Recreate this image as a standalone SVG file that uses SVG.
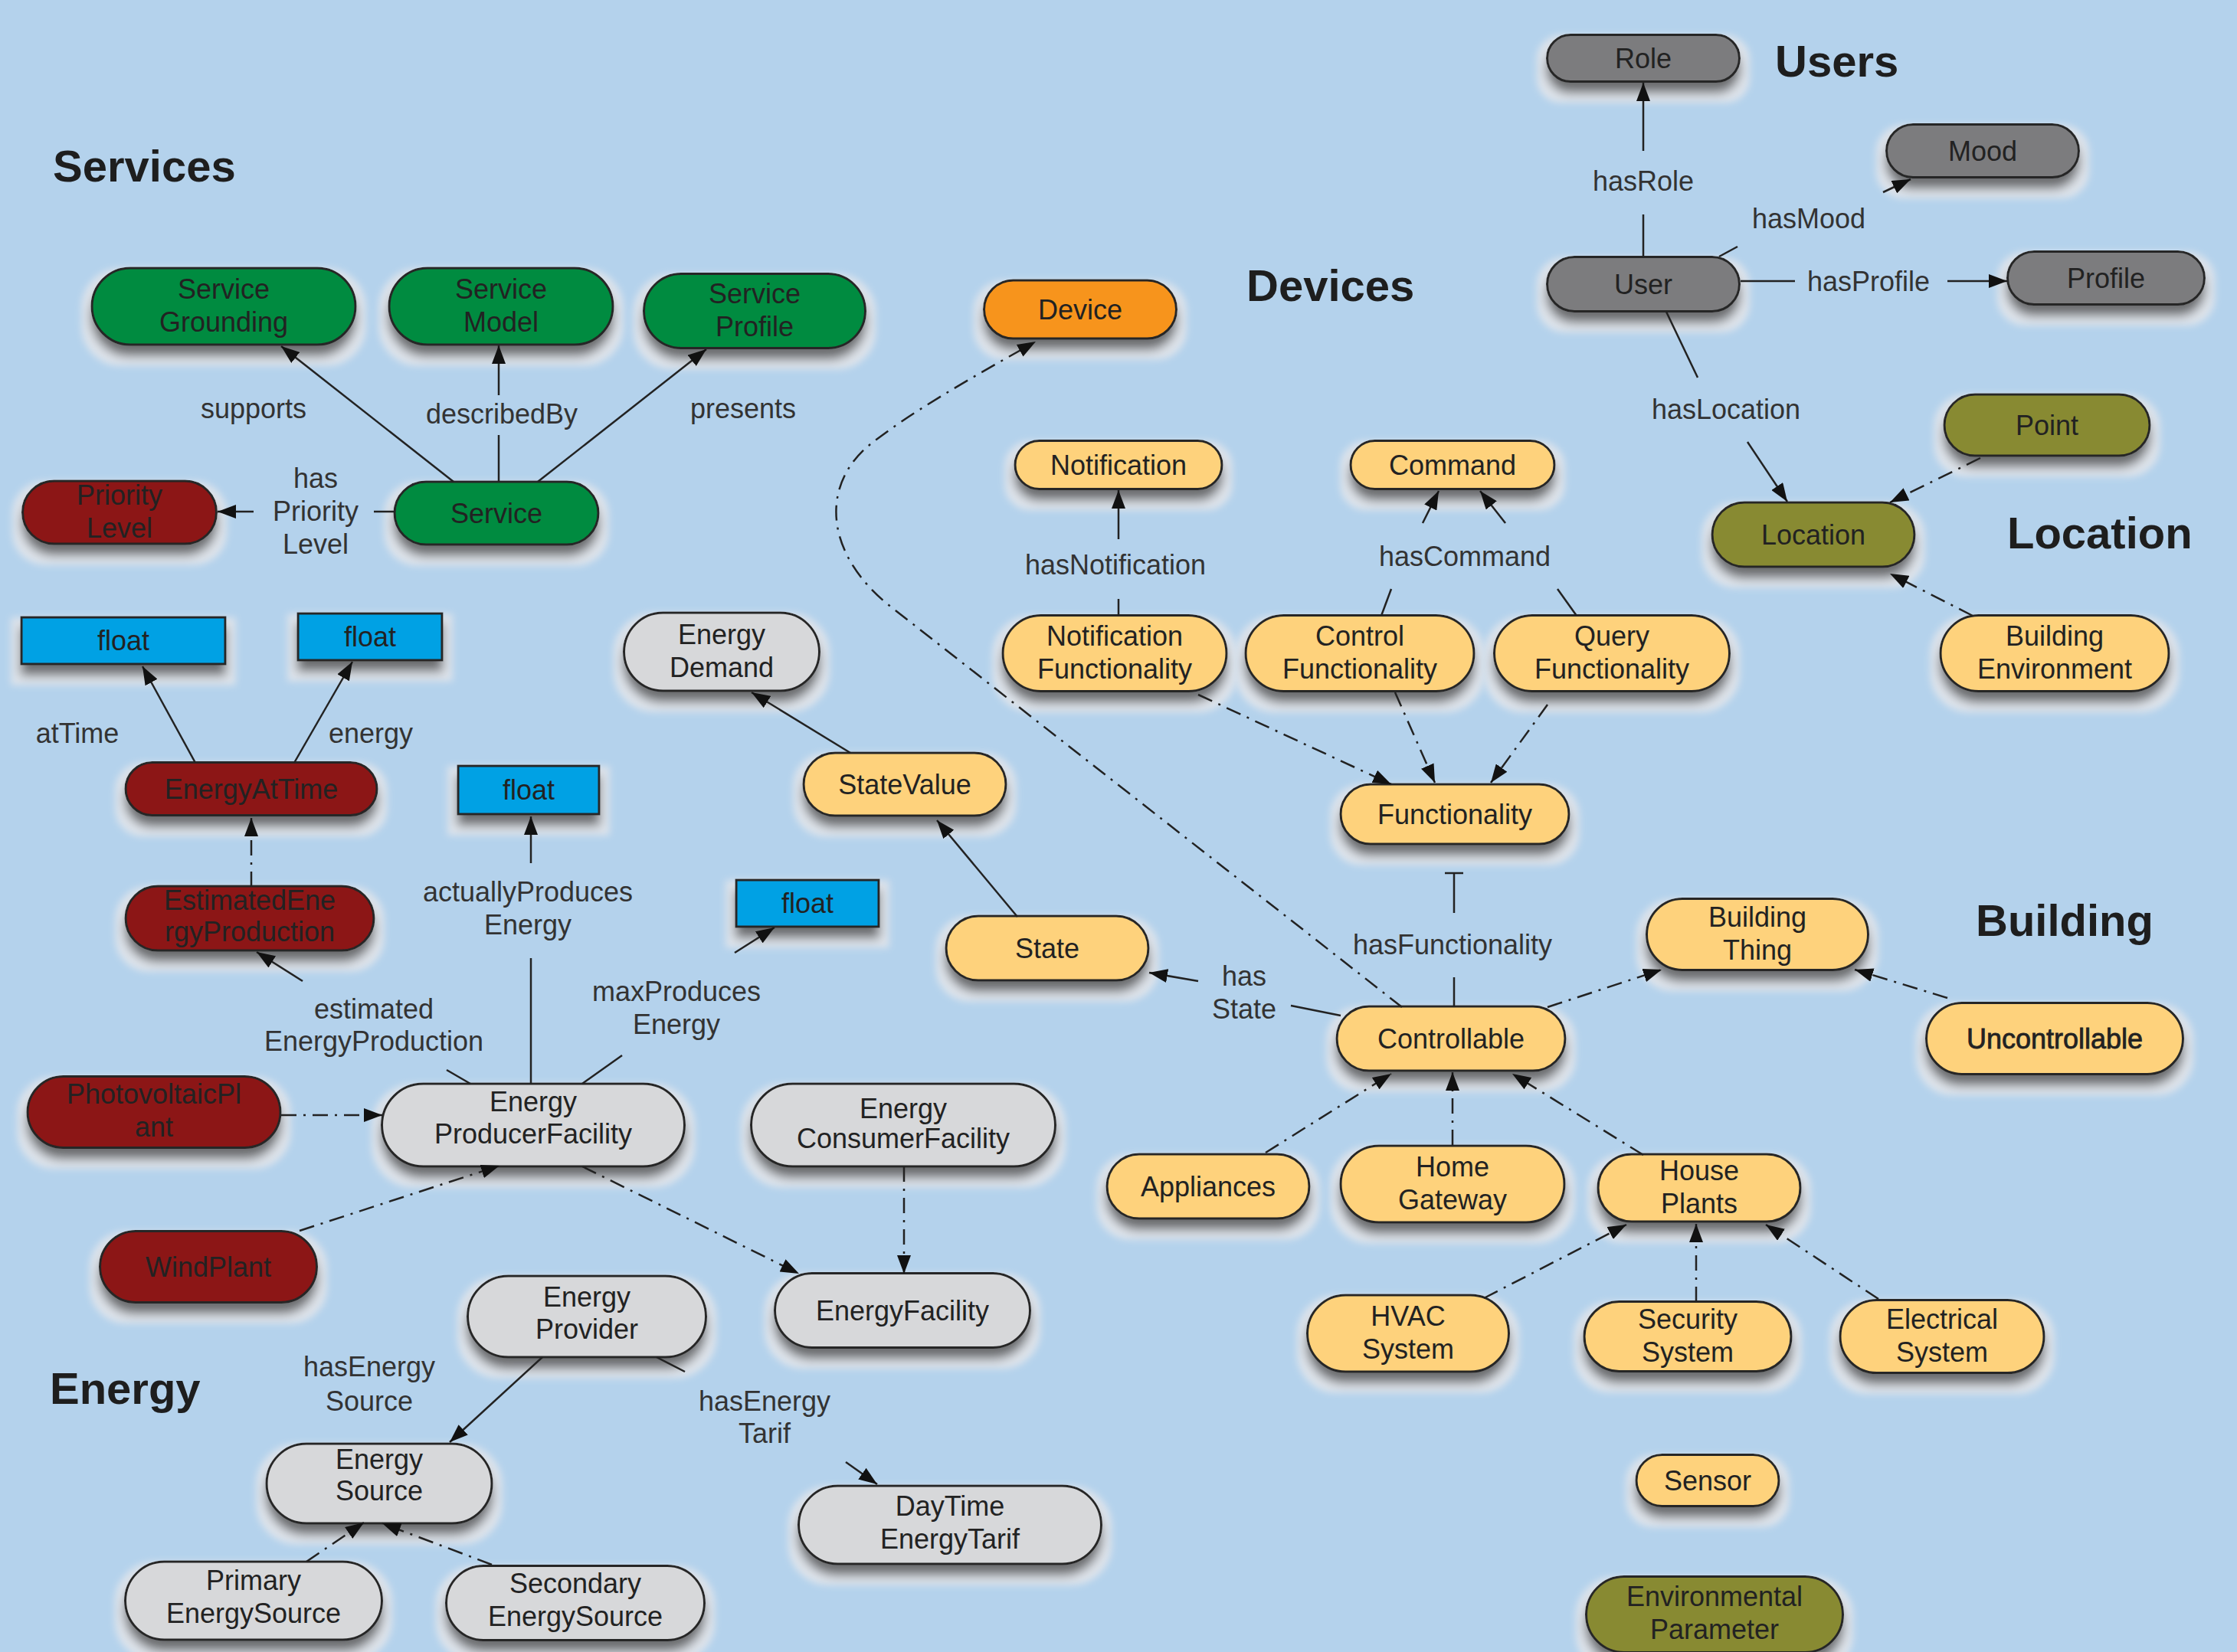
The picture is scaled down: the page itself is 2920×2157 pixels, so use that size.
<svg xmlns="http://www.w3.org/2000/svg" width="2920" height="2157" viewBox="0 0 2920 2157">
  <defs>
    <style>
      .n { stroke: #262626; stroke-width: 3; filter: url(#sh); }
      .grn { fill: #008b3f; }
      .red { fill: #8c1515; }
      .blu { fill: #00a1e4; }
      .lgr { fill: #d7d8da; }
      .dgr { fill: #7b7c7e; }
      .olv { fill: #888a33; }
      .yel { fill: #fed27b; }
      .org { fill: #f7941d; }
      text { font-family: "Liberation Sans", Arial, sans-serif; }
      .t { font-size: 36px; fill: #222; text-anchor: middle; }
      .k { stroke: #222; stroke-width: 0.8; }
      .e { font-size: 36px; fill: #333; text-anchor: middle; }
      .h { font-size: 58px; font-weight: bold; fill: #1e1e1e; }
      .c { fill: none; stroke: #222; stroke-width: 2.5; }
      .dd { stroke-dasharray: 20 9 3 9; }
    </style>
    <filter id="sh" x="-25%" y="-40%" width="150%" height="220%">
      <feMorphology in="SourceAlpha" operator="dilate" radius="12" result="dil"/>
      <feGaussianBlur in="dil" stdDeviation="5" result="dilb"/>
      <feOffset in="dilb" dy="14" result="halo0"/>
      <feFlood flood-color="#e4e7ec" flood-opacity="0.9"/>
      <feComposite in2="halo0" operator="in" result="halo"/>
      <feGaussianBlur in="SourceAlpha" stdDeviation="7" result="blr"/>
      <feOffset in="blr" dy="14" result="off"/>
      <feFlood flood-color="#3a3a3a" flood-opacity="0.85"/>
      <feComposite in2="off" operator="in" result="dark"/>
      <feMerge>
        <feMergeNode in="halo"/>
        <feMergeNode in="dark"/>
        <feMergeNode in="SourceGraphic"/>
      </feMerge>
    </filter>
    <marker id="ah" viewBox="0 0 24 18" refX="24" refY="9" markerWidth="24" markerHeight="18" markerUnits="userSpaceOnUse" orient="auto">
      <path d="M0,0 L24,9 L0,18 z" fill="#111"/>
    </marker>
  </defs>

  <rect width="2920" height="2157" fill="#b4d2ec"/>

  <!-- section headings -->
  <g id="titles">
    <text class="h" x="2317" y="100">Users</text>
    <text class="h" x="69" y="237">Services</text>
    <text class="h" x="1627" y="393">Devices</text>
    <text class="h" x="2620" y="716">Location</text>
    <text class="h" x="2579" y="1222">Building</text>
    <text class="h" x="65" y="1833">Energy</text>
  </g>

  <!-- users -->
  <g id="role"><rect class="n dgr" x="2019.5" y="45.5" width="251" height="61" rx="30.5"/><text class="t" x="2145" y="89">Role</text></g>
  <g id="mood"><rect class="n dgr" x="2462.5" y="162.5" width="251" height="69" rx="34.5"/><text class="t" x="2588" y="210">Mood</text></g>
  <g id="user"><rect class="n dgr" x="2019.5" y="335.5" width="251" height="71" rx="35.5"/><text class="t" x="2145" y="384">User</text></g>
  <g id="profile"><rect class="n dgr" x="2620.5" y="328.5" width="257" height="69" rx="34.5"/><text class="t" x="2749" y="376">Profile</text></g>

  <!-- location -->
  <g id="point"><rect class="n olv" x="2538" y="515" width="268" height="80" rx="40"/><text class="t" x="2672" y="568">Point</text></g>
  <g id="location"><rect class="n olv" x="2235" y="656" width="264" height="84" rx="42"/><text class="t" x="2367" y="711">Location</text></g>
  <g id="building-environment"><rect class="n yel" x="2533" y="803.5" width="298" height="99" rx="49.5"/><text class="t" x="2682" y="843">Building</text><text class="t" x="2682" y="886">Environment</text></g>

  <!-- services -->
  <g id="service-grounding"><rect class="n grn" x="120" y="350" width="344" height="100" rx="50"/><text class="t" x="292" y="390">Service</text><text class="t" x="292" y="433">Grounding</text></g>
  <g id="service-model"><rect class="n grn" x="508" y="350" width="292" height="100" rx="50"/><text class="t" x="654" y="390">Service</text><text class="t" x="654" y="433">Model</text></g>
  <g id="service-profile"><rect class="n grn" x="840.5" y="357.5" width="289" height="97" rx="48.5"/><text class="t" x="985" y="396">Service</text><text class="t" x="985" y="439">Profile</text></g>
  <g id="service"><rect class="n grn" x="515" y="629" width="266" height="82" rx="41"/><text class="t" x="648" y="683">Service</text></g>
  <g id="priority-level"><rect class="n red" x="29.5" y="628" width="253" height="82" rx="41"/><text class="t" x="156" y="659">Priority</text><text class="t" x="156" y="702">Level</text></g>

  <!-- devices -->
  <g id="device"><rect class="n org" x="1284.5" y="366" width="251" height="76" rx="38"/><text class="t" x="1410" y="417">Device</text></g>
  <g id="notification"><rect class="n yel" x="1325" y="575.5" width="270" height="63" rx="31.5"/><text class="t" x="1460" y="620">Notification</text></g>
  <g id="command"><rect class="n yel" x="1763" y="575.5" width="266" height="63" rx="31.5"/><text class="t" x="1896" y="620">Command</text></g>
  <g id="notification-functionality"><rect class="n yel" x="1309" y="803.5" width="292" height="99" rx="49.5"/><text class="t" x="1455" y="843">Notification</text><text class="t" x="1455" y="886">Functionality</text></g>
  <g id="control-functionality"><rect class="n yel" x="1626" y="803.5" width="298" height="99" rx="49.5"/><text class="t" x="1775" y="843">Control</text><text class="t" x="1775" y="886">Functionality</text></g>
  <g id="query-functionality"><rect class="n yel" x="1950.5" y="803.5" width="307" height="99" rx="49.5"/><text class="t" x="2104" y="843">Query</text><text class="t" x="2104" y="886">Functionality</text></g>
  <g id="functionality"><rect class="n yel" x="1750" y="1024" width="298" height="78" rx="39"/><text class="t" x="1899" y="1076">Functionality</text></g>
  <g id="state-value"><rect class="n yel" x="1049" y="983" width="264" height="82" rx="41"/><text class="t" x="1181" y="1037">StateValue</text></g>
  <g id="state"><rect class="n yel" x="1235" y="1196" width="264" height="84" rx="42"/><text class="t" x="1367" y="1251">State</text></g>

  <!-- building -->
  <g id="controllable"><rect class="n yel" x="1745" y="1314" width="298" height="84" rx="42"/><text class="t" x="1894" y="1369">Controllable</text></g>
  <g id="building-thing"><rect class="n yel" x="2149.5" y="1173.5" width="289" height="93" rx="46.5"/><text class="t" x="2294" y="1210">Building</text><text class="t" x="2294" y="1253">Thing</text></g>
  <g id="uncontrollable"><rect class="n yel" x="2514.5" y="1309.5" width="335" height="93" rx="46.5"/><text class="t k" x="2682" y="1369">Uncontrollable</text></g>
  <g id="appliances"><rect class="n yel" x="1445" y="1507" width="264" height="84" rx="42"/><text class="t" x="1577" y="1562">Appliances</text></g>
  <g id="home-gateway"><rect class="n yel" x="1750" y="1496" width="292" height="100" rx="50"/><text class="t" x="1896" y="1536">Home</text><text class="t" x="1896" y="1579">Gateway</text></g>
  <g id="house-plants"><rect class="n yel" x="2086" y="1507" width="264" height="88" rx="44"/><text class="t" x="2218" y="1541">House</text><text class="t" x="2218" y="1584">Plants</text></g>
  <g id="hvac-system"><rect class="n yel" x="1706.5" y="1691" width="263" height="100" rx="50"/><text class="t" x="1838" y="1731">HVAC</text><text class="t" x="1838" y="1774">System</text></g>
  <g id="security-system"><rect class="n yel" x="2068" y="1699.5" width="270" height="91" rx="45.5"/><text class="t" x="2203" y="1735">Security</text><text class="t" x="2203" y="1778">System</text></g>
  <g id="electrical-system"><rect class="n yel" x="2402" y="1697.5" width="266" height="95" rx="47.5"/><text class="t" x="2535" y="1735">Electrical</text><text class="t" x="2535" y="1778">System</text></g>
  <g id="sensor"><rect class="n yel" x="2136" y="1899.5" width="186" height="67" rx="33.5"/><text class="t" x="2229" y="1946">Sensor</text></g>
  <g id="environmental-parameter"><rect class="n olv" x="2070.5" y="2058.5" width="335" height="99" rx="49.5"/><text class="t" x="2238" y="2097">Environmental</text><text class="t" x="2238" y="2140">Parameter</text></g>

  <!-- energy -->
  <g id="float-attime"><rect class="n blu" x="28" y="806" width="266" height="61"/><text class="t" x="161" y="849">float</text></g>
  <g id="float-energy"><rect class="n blu" x="389" y="801" width="188" height="61"/><text class="t" x="483" y="844">float</text></g>
  <g id="float-actual"><rect class="n blu" x="598" y="1000" width="184" height="63"/><text class="t" x="690" y="1044">float</text></g>
  <g id="float-max"><rect class="n blu" x="961" y="1149" width="186" height="61"/><text class="t" x="1054" y="1192">float</text></g>
  <g id="energy-at-time"><rect class="n red" x="164" y="995.5" width="328" height="69" rx="34.5"/><text class="t" x="328" y="1043">EnergyAtTime</text></g>
  <g id="estimated-energy-production"><rect class="n red" x="164" y="1157" width="324" height="84" rx="42"/><text class="t" x="326" y="1188">EstimatedEne</text><text class="t" x="326" y="1229">rgyProduction</text></g>
  <g id="photovoltaic-plant"><rect class="n red" x="36" y="1405.5" width="330" height="93" rx="46.5"/><text class="t" x="201" y="1441">PhotovoltaicPl</text><text class="t" x="201" y="1484">ant</text></g>
  <g id="wind-plant"><rect class="n red" x="130.5" y="1607.5" width="283" height="93" rx="46.5"/><text class="t" x="272" y="1667">WindPlant</text></g>
  <g id="energy-producer-facility"><rect class="n lgr" x="498.5" y="1415" width="395" height="108" rx="54"/><text class="t" x="696" y="1451">Energy</text><text class="t" x="696" y="1493">ProducerFacility</text></g>
  <g id="energy-consumer-facility"><rect class="n lgr" x="980.5" y="1415" width="397" height="108" rx="54"/><text class="t" x="1179" y="1460">Energy</text><text class="t" x="1179" y="1499">ConsumerFacility</text></g>
  <g id="energy-facility"><rect class="n lgr" x="1011.5" y="1662.5" width="333" height="97" rx="48.5"/><text class="t" x="1178" y="1724">EnergyFacility</text></g>
  <g id="energy-demand"><rect class="n lgr" x="814.5" y="800" width="255" height="102" rx="51"/><text class="t" x="942" y="841">Energy</text><text class="t" x="942" y="884">Demand</text></g>
  <g id="energy-provider"><rect class="n lgr" x="610.5" y="1666" width="311" height="106" rx="53"/><text class="t" x="766" y="1706">Energy</text><text class="t" x="766" y="1748">Provider</text></g>
  <g id="energy-source"><rect class="n lgr" x="348" y="1885" width="294" height="104" rx="52"/><text class="t" x="495" y="1918">Energy</text><text class="t" x="495" y="1959">Source</text></g>
  <g id="daytime-energy-tarif"><rect class="n lgr" x="1042.5" y="1940" width="395" height="102" rx="51"/><text class="t" x="1240" y="1979">DayTime</text><text class="t" x="1240" y="2022">EnergyTarif</text></g>
  <g id="primary-energy-source"><rect class="n lgr" x="163.5" y="2039" width="335" height="102" rx="51"/><text class="t" x="331" y="2076">Primary</text><text class="t" x="331" y="2119">EnergySource</text></g>
  <g id="secondary-energy-source"><rect class="n lgr" x="582.5" y="2044.5" width="337" height="97" rx="48.5"/><text class="t" x="751" y="2080">Secondary</text><text class="t" x="751" y="2123">EnergySource</text></g>

  <!-- connectors (drawn above the node shadows so the arrowheads stay visible) -->
  <g id="connectors">
    <!-- users -->
    <path class="c" d="M2145,335 V280"/>
    <path class="c" d="M2145,197 V108" marker-end="url(#ah)"/>
    <path class="c" d="M2244,335 L2268,322"/>
    <path class="c" d="M2458,251 L2494,234" marker-end="url(#ah)"/>
    <path class="c" d="M2272,367 H2343"/>
    <path class="c" d="M2542,367 H2620" marker-end="url(#ah)"/>
    <path class="c" d="M2175,407 L2216,493"/>
    <path class="c" d="M2281,577 L2333,655" marker-end="url(#ah)"/>
    <!-- location -->
    <path class="c dd" d="M2585,598 L2467,656" marker-end="url(#ah)"/>
    <path class="c dd" d="M2575,804 L2467,749" marker-end="url(#ah)"/>
    <!-- services -->
    <path class="c" d="M592,629 L367,452" marker-end="url(#ah)"/>
    <path class="c" d="M651,629 V568"/>
    <path class="c" d="M651,516 V451" marker-end="url(#ah)"/>
    <path class="c" d="M702,629 L922,456" marker-end="url(#ah)"/>
    <path class="c" d="M516,668 H488"/>
    <path class="c" d="M331,668 H284" marker-end="url(#ah)"/>
    <!-- devices -->
    <path class="c" d="M1460,804 V782"/>
    <path class="c" d="M1460,704 V640" marker-end="url(#ah)"/>
    <path class="c" d="M1803,804 L1816,769"/>
    <path class="c" d="M1857,683 L1878,641" marker-end="url(#ah)"/>
    <path class="c" d="M2058,804 L2033,769"/>
    <path class="c" d="M1965,683 L1932,641" marker-end="url(#ah)"/>
    <path class="c dd" d="M1564,907 L1816,1024" marker-end="url(#ah)"/>
    <path class="c dd" d="M1821,904 L1873,1022" marker-end="url(#ah)"/>
    <path class="c dd" d="M2020,920 L1946,1022" marker-end="url(#ah)"/>
    <path class="c" d="M1898,1315 V1276"/>
    <path class="c" d="M1898,1192 V1140 M1886,1140 H1910"/>
    <path class="c" d="M1328,1197 L1223,1071" marker-end="url(#ah)"/>
    <path class="c" d="M1110,983 L981,904" marker-end="url(#ah)"/>
    <path class="c" d="M1750,1326 L1685,1313"/>
    <path class="c" d="M1564,1281 L1500,1270" marker-end="url(#ah)"/>
    <path class="c dd" d="M1830,1315 L1160,790 C1080,725 1070,640 1130,585 C1185,540 1265,495 1352,446" marker-end="url(#ah)"/>
    <!-- building -->
    <path class="c dd" d="M2020,1315 L2169,1266" marker-end="url(#ah)"/>
    <path class="c dd" d="M2542,1303 L2421,1266" marker-end="url(#ah)"/>
    <path class="c dd" d="M1652,1505 L1816,1402" marker-end="url(#ah)"/>
    <path class="c dd" d="M1896,1495 V1400" marker-end="url(#ah)"/>
    <path class="c dd" d="M2145,1508 L1974,1402" marker-end="url(#ah)"/>
    <path class="c dd" d="M1937,1695 L2123,1599" marker-end="url(#ah)"/>
    <path class="c dd" d="M2214,1700 V1598" marker-end="url(#ah)"/>
    <path class="c dd" d="M2452,1696 L2305,1599" marker-end="url(#ah)"/>
    <!-- energy -->
    <path class="c" d="M255,996 L186,870" marker-end="url(#ah)"/>
    <path class="c" d="M384,996 L460,864" marker-end="url(#ah)"/>
    <path class="c dd" d="M328,1158 V1068" marker-end="url(#ah)"/>
    <path class="c" d="M693,1415 V1251"/>
    <path class="c" d="M693,1127 V1066" marker-end="url(#ah)"/>
    <path class="c" d="M760,1415 L812,1378"/>
    <path class="c" d="M959,1244 L1011,1211" marker-end="url(#ah)"/>
    <path class="c" d="M614,1415 L583,1397"/>
    <path class="c" d="M395,1281 L335,1243" marker-end="url(#ah)"/>
    <path class="c dd" d="M367,1456 H499" marker-end="url(#ah)"/>
    <path class="c dd" d="M391,1607 L652,1522" marker-end="url(#ah)"/>
    <path class="c dd" d="M760,1523 L1043,1663" marker-end="url(#ah)"/>
    <path class="c dd" d="M1180,1523 V1663" marker-end="url(#ah)"/>
    <path class="c" d="M708,1772 L587,1883" marker-end="url(#ah)"/>
    <path class="c" d="M857,1772 L894,1791"/>
    <path class="c" d="M1104,1909 L1145,1938" marker-end="url(#ah)"/>
    <path class="c dd" d="M400,2039 L475,1988" marker-end="url(#ah)"/>
    <path class="c dd" d="M642,2043 L499,1989" marker-end="url(#ah)"/>
  </g>

  <!-- connector labels -->
  <g id="edge-labels">
    <text class="e" x="2145" y="249">hasRole</text>
    <text class="e" x="2361" y="298">hasMood</text>
    <text class="e" x="2439" y="380">hasProfile</text>
    <text class="e" x="2253" y="547">hasLocation</text>
    <text class="e" x="331" y="546">supports</text>
    <text class="e" x="655" y="553">describedBy</text>
    <text class="e" x="970" y="546">presents</text>
    <text class="e" x="412" y="637">has</text>
    <text class="e" x="412" y="680">Priority</text>
    <text class="e" x="412" y="723">Level</text>
    <text class="e" x="1456" y="750">hasNotification</text>
    <text class="e" x="1912" y="739">hasCommand</text>
    <text class="e" x="1896" y="1246">hasFunctionality</text>
    <text class="e" x="1624" y="1287">has</text>
    <text class="e" x="1624" y="1330">State</text>
    <text class="e" x="101" y="970">atTime</text>
    <text class="e" x="484" y="970">energy</text>
    <text class="e" x="689" y="1177">actuallyProduces</text>
    <text class="e" x="689" y="1220">Energy</text>
    <text class="e" x="883" y="1307">maxProduces</text>
    <text class="e" x="883" y="1350">Energy</text>
    <text class="e" x="488" y="1330">estimated</text>
    <text class="e" x="488" y="1372">EnergyProduction</text>
    <text class="e" x="482" y="1797">hasEnergy</text>
    <text class="e" x="482" y="1842">Source</text>
    <text class="e" x="998" y="1842">hasEnergy</text>
    <text class="e" x="998" y="1884">Tarif</text>
  </g>
</svg>
